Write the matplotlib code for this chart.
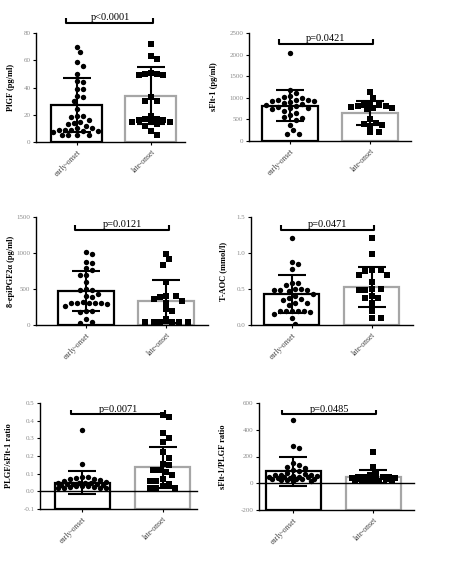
import matplotlib
matplotlib.use("Agg")
import matplotlib.pyplot as plt
import numpy as np

plt.rcParams['font.family'] = ['Liberation Serif', 'DejaVu Serif']

groups = ["early-onset", "late-onset"]

# PlGF (pg/ml)
plgf_early = [70, 66, 59, 56, 50, 45, 44, 39, 39, 34, 33, 30, 24, 19, 19, 18, 16, 15, 14,
              13, 12, 10, 10, 9, 9, 9, 8, 8, 7, 5, 5, 5, 5]
plgf_late = [72, 63, 61, 51, 50, 49, 49, 50, 33, 30, 30, 19, 17, 16, 15, 15, 15, 16, 17,
             13, 12, 8, 5]
plgf_mean = [27, 34]
plgf_sd = [20, 21]

# sFlt-1 (pg/ml)
sflt_early = [2030, 1190, 1120, 1050, 1020, 1000, 960, 940, 940, 930, 920, 900, 880, 850,
              840, 800, 780, 770, 760, 750, 700, 650, 600, 560, 540, 480, 380, 250, 160, 160]
sflt_late = [1130, 1000, 840, 840, 830, 810, 800, 780, 770, 760, 750, 520, 420, 400, 380,
             350, 200, 200]
sflt_mean = [820, 650]
sflt_sd = [365, 280]

# 8-epiPGF2a (pg/ml)
epi_early = [1010, 980, 880, 860, 790, 770, 700, 690, 600, 500, 490, 490, 430, 400, 390,
             320, 310, 310, 310, 310, 310, 290, 270, 200, 190, 180, 80, 40, 30]
epi_late = [990, 910, 840, 600, 400, 400, 390, 360, 330, 310, 220, 200, 80, 40, 40, 40, 40,
            40, 40]
epi_mean = [470, 330]
epi_sd = [280, 300]

# T-AOC (mmol/l)
taoc_early = [1.21, 0.87, 0.85, 0.78, 0.58, 0.58, 0.55, 0.50, 0.50, 0.49, 0.49, 0.48, 0.47,
              0.43, 0.40, 0.37, 0.36, 0.35, 0.30, 0.30, 0.28, 0.20, 0.20, 0.20, 0.20, 0.19,
              0.18, 0.15, 0.10, 0.02]
taoc_late = [1.21, 0.98, 0.77, 0.77, 0.75, 0.70, 0.70, 0.60, 0.50, 0.50, 0.49, 0.48, 0.40,
             0.38, 0.37, 0.30, 0.20, 0.10, 0.10]
taoc_mean = [0.43, 0.53]
taoc_sd = [0.26, 0.28]

# PLGF/sFlt-1 ratio
r1_early = [0.345, 0.155, 0.08, 0.08, 0.075, 0.07, 0.07, 0.065, 0.06, 0.055, 0.05, 0.05,
            0.045, 0.045, 0.04, 0.04, 0.04, 0.035, 0.035, 0.03, 0.03, 0.03, 0.025, 0.025,
            0.02, 0.02, 0.02, 0.02]
r1_late = [0.43, 0.42, 0.33, 0.30, 0.28, 0.22, 0.19, 0.155, 0.15, 0.12, 0.12, 0.11, 0.09,
           0.07, 0.06, 0.06, 0.04, 0.03, 0.02, 0.02, 0.02]
r1_mean = [0.048, 0.135]
r1_sd = [0.065, 0.118]

# sFlt-1/PLGF ratio
r2_early = [470, 280, 260, 150, 140, 120, 115, 100, 90, 75, 70, 65, 60, 60, 55, 55, 50, 50,
            45, 45, 40, 40, 35, 35, 30, 30, 25, 25, 20, 20]
r2_late = [230, 125, 80, 60, 50, 50, 45, 45, 40, 40, 35, 35, 30, 30, 25, 25, 20, 20]
r2_mean = [88, 50]
r2_sd = [105, 50]

panels = [
    dict(early=plgf_early, late=plgf_late, mean=plgf_mean, sd=plgf_sd,
         ylabel="PlGF (pg/ml)", yticks=[0, 20, 40, 60, 80], ylim=(0, 80),
         tickfmt="{:g}", p="p<0.0001", pb=87.4, pos=[36, 33, 185, 142],
         xlim=(-0.55, 1.46), lab=21),
    dict(early=sflt_early, late=sflt_late, mean=sflt_mean, sd=sflt_sd,
         ylabel="sFlt-1 (pg/ml)", yticks=[0, 500, 1000, 1500, 2000, 2500], ylim=(0, 2500),
         tickfmt="{:g}", p="p=0.0421", pb=2252, pos=[249, 33, 411, 141],
         xlim=(-0.51, 1.51), lab=31),
    dict(early=epi_early, late=epi_late, mean=epi_mean, sd=epi_sd,
         ylabel="8-epiPGF2\u03b1 (pg/ml)", yticks=[0, 500, 1000, 1500], ylim=(0, 1500),
         tickfmt="{:g}", p="p=0.0121", pb=1323, pos=[36, 217, 208, 325],
         xlim=(-0.62, 1.52), lab=21),
    dict(early=taoc_early, late=taoc_late, mean=taoc_mean, sd=taoc_sd,
         ylabel="T-AOC (mmol/l)", yticks=[0, 0.5, 1.0, 1.5], ylim=(0, 1.5),
         tickfmt="{:.1f}", p="p=0.0471", pb=1.323, pos=[251, 217, 413, 325],
         xlim=(-0.51, 1.52), lab=24),
    dict(early=r1_early, late=r1_late, mean=r1_mean, sd=r1_sd,
         ylabel="PLGF/sFlt-1 ratio", yticks=[-0.1, 0, 0.1, 0.2, 0.3, 0.4, 0.5], ylim=(-0.1, 0.5),
         tickfmt="{:.1f}", p="p=0.0071", pb=0.436, pos=[40, 403, 197, 509],
         xlim=(-0.53, 1.43), lab=27),
    dict(early=r2_early, late=r2_late, mean=r2_mean, sd=r2_sd,
         ylabel="sFlt-1/PLGF ratio", yticks=[-200, 0, 200, 400, 600], ylim=(-200, 600),
         tickfmt="{:g}", p="p=0.0485", pb=515, pos=[259, 403, 414, 510],
         xlim=(-0.43, 1.51), lab=32),
]

W, H = 452, 569
fig = plt.figure(figsize=(W / 100, H / 100), dpi=100)


def swarm(ax, x0, vals, d, half_w):
    # deterministic beeswarm in pixel space, kept inside +-half_w pixels
    tr = ax.transData
    placed = []
    out_x = np.zeros(len(vals))
    order = np.argsort(vals)[::-1]
    step = d * 0.5
    nmax = int(half_w // step)
    cands = [0]
    for k in range(1, nmax + 1):
        cands += [k * step, -k * step]
    for i in order:
        px0, py = tr.transform((x0, vals[i]))
        best, best_d = 0, -1
        for off in cands:
            px = px0 + off
            md = min([np.hypot(px - qx, py - qy) for qx, qy in placed] or [1e9])
            if md >= d:
                best = off
                break
            if md > best_d:
                best, best_d = off, md
        placed.append((px0 + best, py))
        out_x[i] = tr.inverted().transform((px0 + best, py))[0]
    return out_x


for pn in panels:
    l, t, r, b = pn['pos']
    ax = fig.add_axes([l / W, 1 - b / H, (r - l) / W, (b - t) / H])
    ymin, ymax = pn['ylim']
    ax.set_xlim(*pn['xlim'])
    ax.set_ylim(ymin, ymax)
    for s in ['top', 'right']:
        ax.spines[s].set_visible(False)
    for s in ['left', 'bottom']:
        ax.spines[s].set_linewidth(1.0)

    base = ymin
    heights = [m - base for m in pn['mean']]
    ax.bar([0, 1], heights, bottom=base, width=0.69, color='white',
           edgecolor=['black', '#a6a6a6'], linewidth=1.6, zorder=1)
    if ymin < 0:
        ax.axhline(0, color='black', lw=1.0, zorder=2, clip_on=False)

    xe = swarm(ax, 0, pn['early'], 6.0, 24)
    xl = swarm(ax, 1, pn['late'], 6.2, 24)
    ax.scatter(xe, pn['early'], s=15, marker='o', color='black', zorder=3, linewidths=0)
    ax.scatter(xl, pn['late'], s=16, marker='s', color='black', zorder=3, linewidths=0)
    ax.errorbar([0, 1], pn['mean'], yerr=pn['sd'], fmt='none', ecolor='black',
                elinewidth=1.5, capsize=10, capthick=1.5, zorder=4)

    # significance bracket
    rng = ymax - ymin
    yb = pn['pb']
    leg = 0.045 * rng
    ax.plot([-0.14, -0.14, 1.03, 1.03], [yb + leg, yb, yb, yb + leg], color='black',
            lw=1.5, clip_on=False, zorder=5, solid_capstyle='butt')
    ax.annotate(pn['p'], xy=(0.45, yb), xytext=(0, 0.5), textcoords='offset points',
                ha='center', va='bottom', fontsize=7.5, annotation_clip=False)

    ax.set_yticks(pn['yticks'])
    ax.set_yticklabels([pn['tickfmt'].format(v) for v in pn['yticks']])
    ax.tick_params(axis='y', labelsize=5, labelcolor='#8c8c8c', length=2.5, width=0.8,
                   pad=1.5)
    ax.set_xticks([0, 1])
    ax.set_xticklabels(groups, rotation=45, ha='right', rotation_mode='anchor')
    ax.tick_params(axis='x', labelsize=5.5, labelcolor='#444444', length=2.5, width=0.8,
                   pad=2)
    ax.set_ylabel(pn['ylabel'], fontsize=6, fontweight='bold')
    ax.yaxis.set_label_coords(-pn['lab'] / (r - l), 0.5)

fig.savefig("out.png", dpi=100)
